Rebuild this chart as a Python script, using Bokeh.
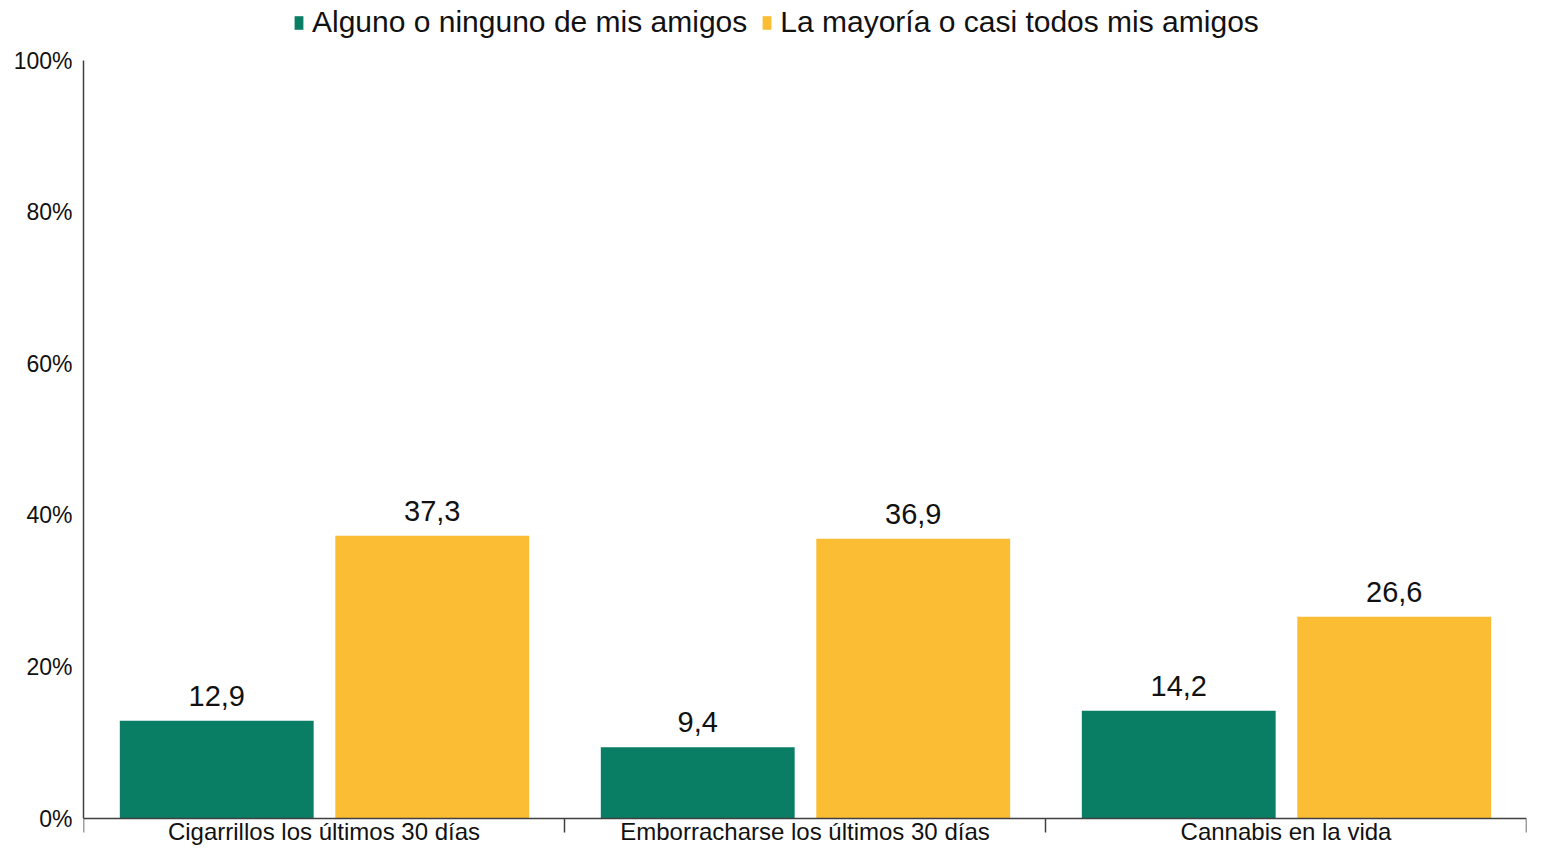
from bokeh.plotting import figure
from bokeh.models import (FixedTicker, Legend, LegendItem, LabelSet, ColumnDataSource,
                          Range1d, PrintfTickFormatter, Span)
from bokeh.core.properties import value
from bokeh.embed import file_html
from bokeh.resources import INLINE

categories = ["Cigarrillos los últimos 30 días", "Emborracharse los últimos 30 días", "Cannabis en la vida"]
series_names = ["Alguno o ninguno de mis amigos", "La mayoría o casi todos mis amigos"]
values_some = [12.9, 9.4, 14.2]
values_most = [37.3, 36.9, 26.6]
colors = ["#0A7D65", "#FBBD33"]
y_ticks = [0, 20, 40, 60, 80, 100]

FONT = "Liberation Sans"
AXIS_COLOR = "#404040"
TEXT_COLOR = "#111111"

W, H = 1527, 848
LEFT = 83
ZERO_PX = 818      # pixel row of 0 %
TOP_PX = 60        # pixel row of 100 %
scale = (ZERO_PX - TOP_PX) / 100.0
y_min = -(H - ZERO_PX) / scale
y_max = 100 + TOP_PX / scale
tick_len = 14 / scale

p = figure(width=W, height=H, output_backend="svg", toolbar_location=None,
           x_range=Range1d(0, 3), y_range=Range1d(y_min, y_max),
           min_border_left=LEFT, min_border_right=1, min_border_top=0, min_border_bottom=0)
p.outline_line_color = None
p.xgrid.grid_line_color = None
p.ygrid.grid_line_color = None
p.xaxis.visible = False
p.background_fill_color = "white"

n = len(categories)
x_some = [i + 0.277 for i in range(n)]
x_most = [i + 0.725 for i in range(n)]
bw = 0.403

src_some = ColumnDataSource(dict(x=x_some, top=values_some,
                                 lab=[f"{v:.1f}".replace(".", ",") for v in values_some]))
src_most = ColumnDataSource(dict(x=x_most, top=values_most,
                                 lab=[f"{v:.1f}".replace(".", ",") for v in values_most]))

r1 = p.vbar(x="x", top="top", width=bw, bottom=0, source=src_some, color=colors[0], line_color=None)
r2 = p.vbar(x="x", top="top", width=bw, bottom=0, source=src_most, color=colors[1], line_color=None)

for src in (src_some, src_most):
    ls = LabelSet(x="x", y="top", text="lab", source=src, text_align="center",
                  text_baseline="alphabetic", y_offset=15, text_font=value(FONT),
                  text_font_size="29px", text_color=TEXT_COLOR)
    p.add_layout(ls)

# x axis line, category separators and category labels
p.add_layout(Span(location=0, dimension="width", line_color=AXIS_COLOR, line_width=1.5))
bounds = list(range(n + 1))
p.segment(x0=bounds, y0=[0] * len(bounds), x1=bounds, y1=[-tick_len] * len(bounds),
          line_color=AXIS_COLOR, line_width=1.5)
cat_src = ColumnDataSource(dict(x=[i + 0.5 for i in range(n)], y=[0] * n, lab=categories))
p.add_layout(LabelSet(x="x", y="y", text="lab", source=cat_src, text_align="center",
                      text_baseline="middle", y_offset=-13, text_font=value(FONT),
                      text_font_size="24px", text_color=TEXT_COLOR))

# y axis
ya = p.yaxis[0]
ya.ticker = FixedTicker(ticks=y_ticks)
ya.formatter = PrintfTickFormatter(format="%d%%")
ya.bounds = (0, 100)
ya.major_tick_line_color = None
ya.minor_tick_line_color = None
ya.major_tick_out = 0
ya.major_tick_in = 0
ya.major_label_standoff = 11
ya.major_label_text_font = FONT
ya.major_label_text_font_size = "23px"
ya.major_label_text_color = TEXT_COLOR
ya.axis_line_color = AXIS_COLOR
ya.axis_line_width = 1.5

legend = Legend(items=[LegendItem(label=series_names[0], renderers=[r1]),
                       LegendItem(label=series_names[1], renderers=[r2])],
                location=(210, H - 4 - 35), orientation="horizontal",
                glyph_width=11, glyph_height=17, label_standoff=8, spacing=14,
                padding=0, margin=0, border_line_color=None, background_fill_alpha=0,
                label_text_font=FONT, label_text_font_size="30px", label_text_color=TEXT_COLOR)
p.add_layout(legend)

open("out.html", "w").write(file_html(p, INLINE))
